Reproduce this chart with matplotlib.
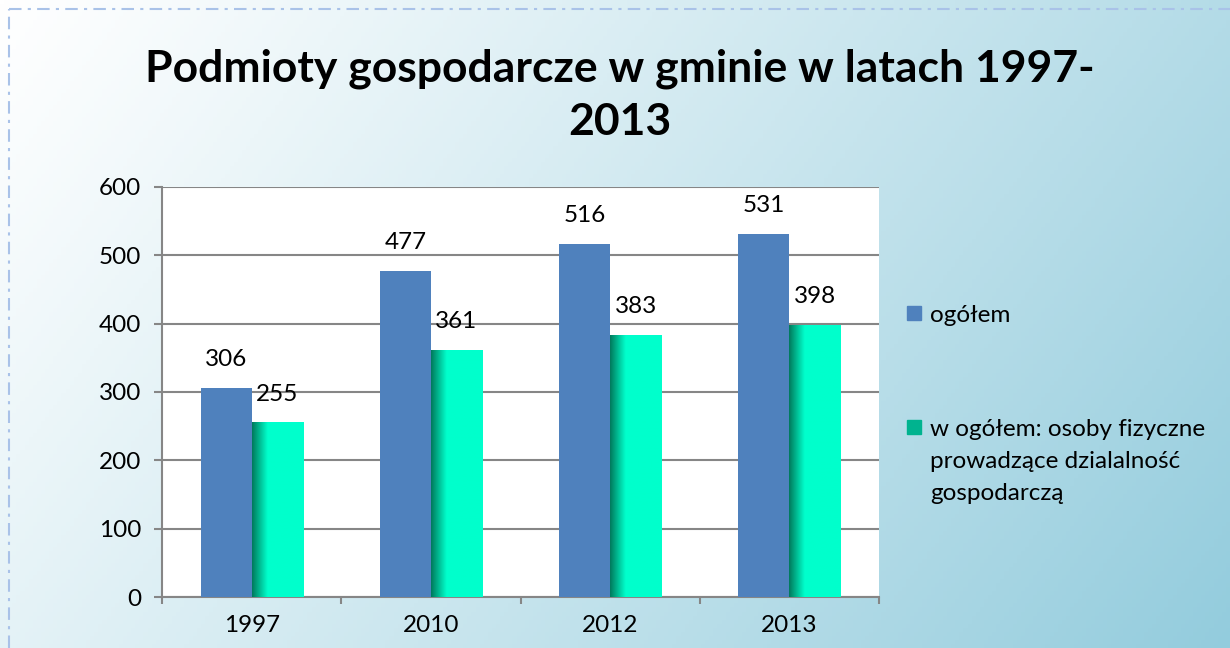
import numpy as np
import matplotlib
matplotlib.use("Agg")
import matplotlib.pyplot as plt
from matplotlib.patches import Rectangle
from matplotlib.lines import Line2D
from matplotlib.colors import LinearSegmentedColormap

plt.rcParams['font.family'] = ['Lato', 'DejaVu Sans']

years = ["1997", "2010", "2012", "2013"]
ogolem = [306, 477, 516, 531]
fizyczne = [255, 361, 383, 398]
series_labels = ["ogółem", "w ogółem: osoby fizyczne\nprowadzące dzialalność\ngospodarczą"]
title = "Podmioty gospodarcze w gminie w latach 1997-\n2013"
yticks = [0, 100, 200, 300, 400, 500, 600]

BLUE = "#4F81BD"
AQUA = "#00FFCC"
DARK = "#007A5C"
GRID = "#868686"
FS = 17.5
W, H = 1230, 648

fig = plt.figure(figsize=(12.3, 6.48), dpi=100)

# background gradient
bg = fig.add_axes([0, 0, 1, 1], zorder=-10)
bg.set_axis_off()
nx, ny = 300, 160
xx, yy = np.meshgrid(np.linspace(0, 1, nx), np.linspace(0, 1, ny))
t = np.clip(0.72 * xx + 0.28 * yy, 0, 1) ** 1.1
c0 = np.array([1.0, 1.0, 1.0])
c1 = np.array([0x93, 0xCC, 0xDD]) / 255.0
img = c0[None, None, :] * (1 - t[..., None]) + c1[None, None, :] * t[..., None]
bg.imshow(img, extent=(0, 1, 0, 1), aspect='auto', origin='upper')
bg.set_xlim(0, 1)
bg.set_ylim(0, 1)

# border (dash-dot)
fig.add_artist(Line2D([9/W, 9/W], [0, 1 - 9/H], transform=fig.transFigure,
                      color="#A9C2E8", lw=1.5, ls=(0, (6, 3, 1.5, 3))))
fig.add_artist(Line2D([9/W, 1], [1 - 9/H, 1 - 9/H], transform=fig.transFigure,
                      color="#A9C2E8", lw=1.5, ls=(0, (6, 3, 1.5, 3))))

ax = fig.add_axes([162/W, 1 - 597/H, (879 - 162)/W, (597 - 187)/H])
ax.set_facecolor("white")

x = np.arange(len(years))
w = 0.285
b1 = ax.bar(x - w/2, ogolem, w, color=BLUE, zorder=3, edgecolor='none')
b2 = ax.bar(x + w/2, fizyczne, w, color=AQUA, zorder=3, edgecolor='none')

# gradient on aqua bars
cmap = LinearSegmentedColormap.from_list("g", [(0, DARK), (0.3, AQUA), (1, AQUA)])
grad = np.linspace(0, 1, 200)[None, :]
for r in b2:
    x0, y0 = r.get_x(), r.get_y()
    ax.imshow(grad, cmap=cmap, extent=(x0, x0 + r.get_width(), y0, y0 + r.get_height()),
              aspect='auto', zorder=3.5, interpolation='bilinear')

ax.set_xlim(-0.5, len(years) - 0.5)
ax.set_ylim(0, 600)
ax.set_yticks(yticks)
ax.set_xticks(x)
ax.set_xticklabels(years)
ax.set_xticks(np.arange(len(years) + 1) - 0.5, minor=True)
ax.tick_params(axis='x', which='major', length=0, labelsize=FS, pad=13)
ax.tick_params(axis='x', which='minor', length=5, color=GRID, width=1.5)
ax.tick_params(axis='y', length=6, color=GRID, width=1.5, labelsize=FS, pad=9)
ax.grid(axis='y', color=GRID, lw=1.5, zorder=0)
ax.set_axisbelow(True)
for s in ['top', 'right']:
    ax.spines[s].set_visible(False)
for s in ['left', 'bottom']:
    ax.spines[s].set_color(GRID)
    ax.spines[s].set_linewidth(1.5)

ax.bar_label(b1, labels=[str(v) for v in ogolem], padding=13, fontsize=FS, zorder=5)
ax.bar_label(b2, labels=[str(v) for v in fizyczne], padding=13, fontsize=FS, zorder=5)

fig.text(620/W, 1 - 95/H, title, ha='center', va='center', fontsize=32,
         fontweight='bold', linespacing=1.38)

# legend (manual, handle aligned with first text line)
leg_colors = [BLUE, "#00B38F"]
leg_y = [313, 427]
for c, yc, lab in zip(leg_colors, leg_y, series_labels):
    fig.add_artist(Rectangle((907/W, 1 - (yc + 7)/H), 14/W, 14/H, transform=fig.transFigure,
                             color=c))
    fig.text(930/W, 1 - (yc - 8)/H, lab, ha='left', va='top', fontsize=FS,
             linespacing=1.64)

fig.savefig("out.png", dpi=100)
